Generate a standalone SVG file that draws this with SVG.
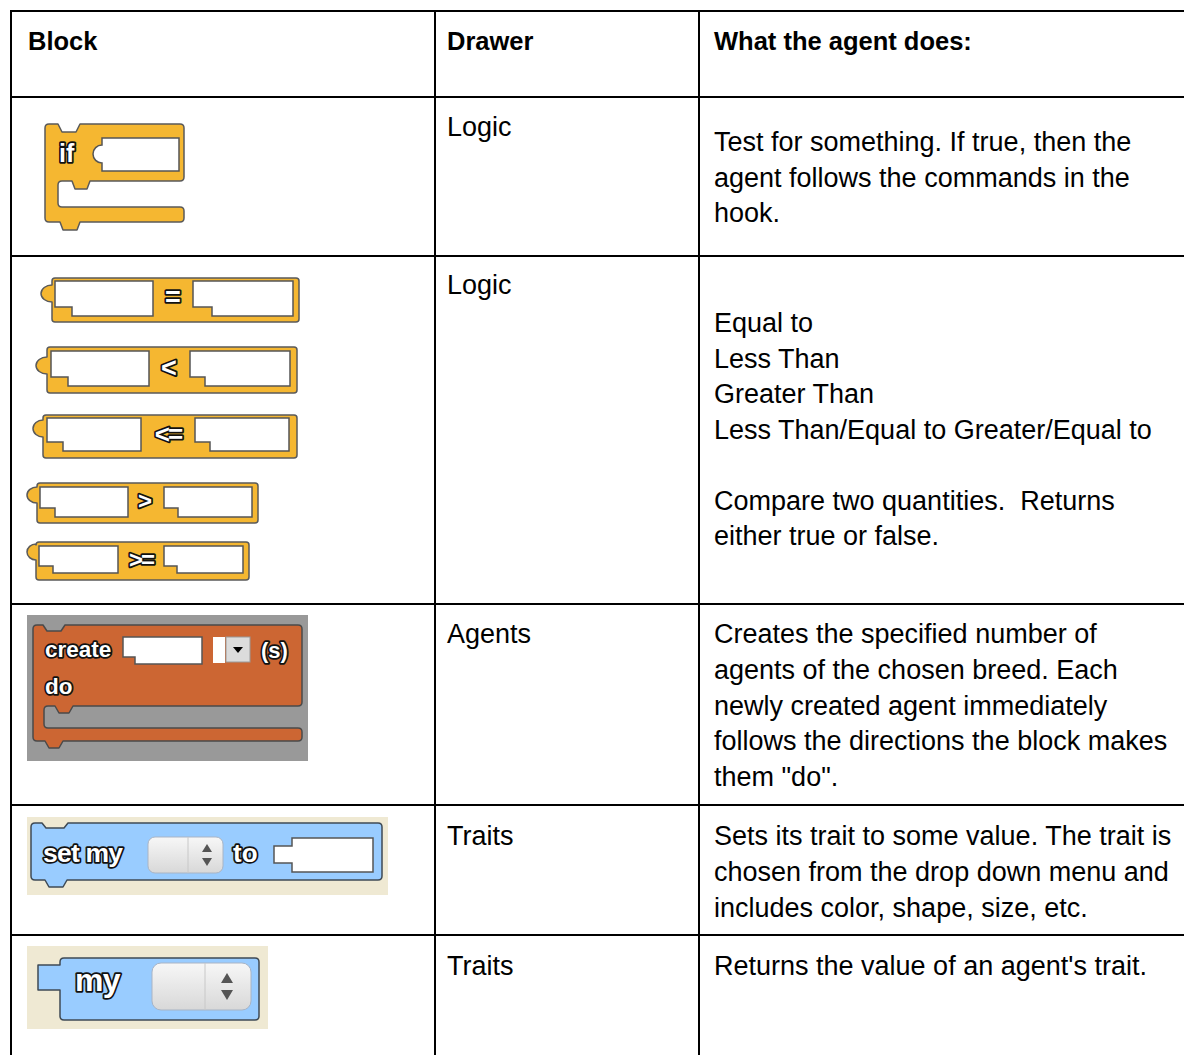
<svg xmlns="http://www.w3.org/2000/svg" width="1184" height="1055" viewBox="0 0 1184 1055">
<defs>
<style>
.grid{stroke:#000;stroke-width:2;fill:none}
.hd{font-family:"Liberation Sans",Arial,sans-serif;font-weight:bold;font-size:25.5px;fill:#000}
.tx{font-family:"Liberation Sans",Arial,sans-serif;font-size:27px;fill:#000}
.logic{fill:#F5B731;stroke:#5A5A5A;stroke-width:1.5;stroke-linejoin:round}
.agent{fill:#CC6633;stroke:#4A4A4A;stroke-width:1.5;stroke-linejoin:round}
.trait{fill:#99CCFF;stroke:#3F4A55;stroke-width:1.5;stroke-linejoin:round}
.slot{fill:#fff;stroke:#555;stroke-width:1.5}
.lbl{font-family:"Liberation Sans",Arial,sans-serif;font-weight:bold;fill:#fff;stroke:#111;stroke-width:3.5;paint-order:stroke;stroke-linejoin:round}
.spin{fill:url(#sg);stroke:#A9B4C4;stroke-width:1}
.tri{fill:#555}
</style>
<linearGradient id="sg" x1="0" y1="0" x2="0" y2="1">
<stop offset="0" stop-color="#F7F7F7"/>
<stop offset="1" stop-color="#D8D8D8"/>
</linearGradient>
</defs>
<rect width="1184" height="1055" fill="#fff"/>

<g id="table-grid">
<line class="grid" x1="10" y1="11" x2="1184" y2="11"/>
<line class="grid" x1="10" y1="97" x2="1184" y2="97"/>
<line class="grid" x1="10" y1="256" x2="1184" y2="256"/>
<line class="grid" x1="10" y1="604" x2="1184" y2="604"/>
<line class="grid" x1="10" y1="805" x2="1184" y2="805"/>
<line class="grid" x1="10" y1="935" x2="1184" y2="935"/>
<line class="grid" x1="11" y1="10" x2="11" y2="1055"/>
<line class="grid" x1="435" y1="10" x2="435" y2="1055"/>
<line class="grid" x1="699" y1="10" x2="699" y2="1055"/>
</g>

<g id="header">
<text class="hd" x="28" y="50">Block</text>
<text class="hd" x="447" y="50">Drawer</text>
<text class="hd" x="714" y="50">What the agent does:</text>
</g>

<g id="row-if">
<path class="logic" d="M49,124 H58 L62,132 H76 L80,124 H180 Q184,124 184,128 V177 Q184,181 180,181 H90 L87,189 H75 L72,181 H62 Q58,181 58,185 V203 Q58,207 62,207 H180 Q184,207 184,211 V218 Q184,222 180,222 H80 L77,230 H63 L60,222 H49 Q45,222 45,218 V128 Q45,124 49,124 Z"/>
<path class="slot" d="M102,138 H179 V171 H102 V163 A9 9 0 0 1 102,145 Z"/>
<text class="lbl" x="59" y="162" font-size="25">if</text>
<text class="tx" x="447" y="136">Logic</text>
<text class="tx" x="714" y="151">Test for something. If true, then the</text>
<text class="tx" x="714" y="187">agent follows the commands in the</text>
<text class="tx" x="714" y="222">hook.</text>
</g>

<g id="row-compare">
<path class="logic" d="M55,278 H296 Q299,278 299,281 V319 Q299,322 296,322 H55 Q52,322 52,319 V302 A11 8.5 0 0 1 52,285 V281 Q52,278 55,278 Z"/>
<path class="slot" d="M55,281 H153 V316 H72 V307 H55 Z"/>
<path class="slot" d="M193,281 H293 V316 H212 V307 H193 Z"/>
<text class="lbl" x="173" y="306" font-size="27" text-anchor="middle">=</text>

<path class="logic" d="M50,347 H294 Q297,347 297,350 V390 Q297,393 294,393 H50 Q47,393 47,390 V374 A11 8.5 0 0 1 47,357 V350 Q47,347 50,347 Z"/>
<path class="slot" d="M51,351 H149 V386 H68 V377 H51 Z"/>
<path class="slot" d="M190,351 H290 V386 H205 V377 H190 Z"/>
<text class="lbl" x="169" y="377" font-size="27" text-anchor="middle">&lt;</text>

<path class="logic" d="M46,415 H294 Q297,415 297,418 V455 Q297,458 294,458 H46 Q43,458 43,455 V437 A10 8.5 0 0 1 43,420 V418 Q43,415 46,415 Z"/>
<path class="slot" d="M47,418 H141 V451 H63 V442 H47 Z"/>
<path class="slot" d="M195,418 H289 V451 H210 V442 H195 Z"/>
<text class="lbl" x="168" y="443" font-size="26" text-anchor="middle" letter-spacing="-2">&lt;=</text>

<path class="logic" d="M40,483 H255 Q258,483 258,486 V520 Q258,523 255,523 H40 Q37,523 37,520 V503 A10 8 0 0 1 37,487 V486 Q37,483 40,483 Z"/>
<path class="slot" d="M40,487 H128 V517 H55 V508 H40 Z"/>
<path class="slot" d="M164,487 H252 V517 H178 V508 H164 Z"/>
<text class="lbl" x="145" y="509" font-size="24" text-anchor="middle">&gt;</text>

<path class="logic" d="M39,542 H246 Q249,542 249,545 V577 Q249,580 246,580 H39 Q36,580 36,577 V560 A9 8 0 0 1 36,544 V545 Q36,542 39,542 Z"/>
<path class="slot" d="M39,546 H118 V573 H53 V566 H39 Z"/>
<path class="slot" d="M164,546 H243 V573 H177 V566 H164 Z"/>
<text class="lbl" x="141" y="568" font-size="24" text-anchor="middle" letter-spacing="-2">&gt;=</text>

<text class="tx" x="447" y="294">Logic</text>
<text class="tx" x="714" y="332">Equal to</text>
<text class="tx" x="714" y="368">Less Than</text>
<text class="tx" x="714" y="403">Greater Than</text>
<text class="tx" x="714" y="439">Less Than/Equal to Greater/Equal to</text>
<text class="tx" x="714" y="510">Compare two quantities.&#160; Returns</text>
<text class="tx" x="714" y="545">either true or false.</text>
</g>

<g id="row-create">
<rect x="27" y="615" width="281" height="146" fill="#999999"/>
<path class="agent" d="M37,625 H43 L47,631 H61 L65,625 H298 Q302,625 302,629 V702 Q302,706 298,706 H73 L69,713 H59 L55,706 H48 Q44,706 44,710 V724 Q44,728 48,728 H298 Q302,728 302,732 V737 Q302,741 298,741 H63 L59,748 H49 L45,741 H37 Q33,741 33,737 V629 Q33,625 37,625 Z"/>
<path class="slot" d="M123,637 H202 V664 H135 V657 H123 Z"/>
<rect x="213" y="637" width="12" height="26" fill="#fff"/>
<rect x="226" y="637" width="24" height="25" fill="#DCDCDC" stroke="#9A9A9A" stroke-width="1"/>
<path d="M233,647 H243 L238,653 Z" fill="#000"/>
<text class="lbl" x="45" y="657" font-size="22.5">create</text>
<text class="lbl" x="45" y="694" font-size="22.5">do</text>
<text class="lbl" x="261" y="658" font-size="22">(s)</text>
<text class="tx" x="447" y="643">Agents</text>
<text class="tx" x="714" y="643">Creates the specified number of</text>
<text class="tx" x="714" y="679">agents of the chosen breed. Each</text>
<text class="tx" x="714" y="715">newly created agent immediately</text>
<text class="tx" x="714" y="750">follows the directions the block makes</text>
<text class="tx" x="714" y="786">them "do".</text>
</g>

<g id="row-setmy">
<rect x="27" y="817" width="361" height="78" fill="#EFE9D3"/>
<path class="trait" d="M35,823 H42 L46,828 H64 L68,823 H378 Q382,823 382,827 V876 Q382,880 378,880 H67 L63,887 H49 L45,880 H35 Q31,880 31,876 V827 Q31,823 35,823 Z"/>
<rect class="spin" x="148" y="837" width="75" height="36" rx="7"/>
<line x1="188" y1="837" x2="188" y2="873" stroke="#C8C8C8" stroke-width="1"/>
<path class="tri" d="M202,852 H212 L207,844 Z"/>
<path class="tri" d="M202,858 H212 L207,866 Z"/>
<path class="slot" d="M292,838 H373 V872 H292 V863 H274 V846 H292 Z"/>
<text class="lbl" x="43" y="862" font-size="26.5" letter-spacing="-0.8">set my</text>
<text class="lbl" x="233" y="862" font-size="26">to</text>
<text class="tx" x="447" y="845">Traits</text>
<text class="tx" x="714" y="845">Sets its trait to some value. The trait is</text>
<text class="tx" x="714" y="881">chosen from the drop down menu and</text>
<text class="tx" x="714" y="917">includes color, shape, size, etc.</text>
</g>

<g id="row-my">
<rect x="27" y="946" width="241" height="83" fill="#EFE9D3"/>
<path class="trait" d="M64,958 H255 Q259,958 259,962 V1016 Q259,1020 255,1020 H64 Q60,1020 60,1016 V990 H38 V965 H60 V962 Q60,958 64,958 Z"/>
<rect class="spin" x="152" y="963" width="99" height="47" rx="9"/>
<line x1="205" y1="963" x2="205" y2="1010" stroke="#C8C8C8" stroke-width="1"/>
<path class="tri" d="M221,983 H233 L227,973 Z"/>
<path class="tri" d="M221,990 H233 L227,1000 Z"/>
<text class="lbl" x="75" y="991" font-size="32" letter-spacing="-0.8">my</text>
<text class="tx" x="447" y="975">Traits</text>
<text class="tx" x="714" y="975">Returns the value of an agent's trait.</text>
</g>
</svg>
